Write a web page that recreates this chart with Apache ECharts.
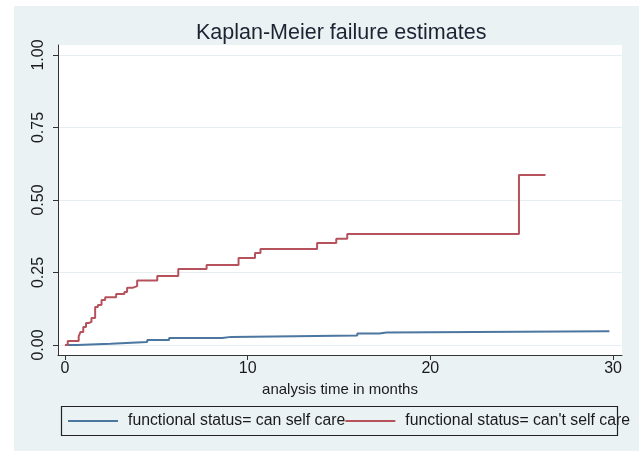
<!DOCTYPE html>
<html>
<head>
<meta charset="utf-8">
<script src="https://cdn.jsdelivr.net/npm/echarts@6/dist/echarts.min.js"></script>
<style>html,body{margin:0;padding:0;background:#fff}#c{width:639px;height:451px}</style>
</head>
<body>
<div id="c"></div>
<script>
// Kaplan-Meier failure estimates (time in months, cumulative failure)
const xTicks = [0, 10, 20, 30];
const yTicks = [0, 0.25, 0.5, 0.75, 1];
const canSelfCare = [
  [0, 0], [0.65, 0.004], [2.5, 0.010], [4.5, 0.017], [5.7, 0.024],
  [8.6, 0.028], [9.1, 0.033], [16.0, 0.040], [17.2, 0.043], [17.6, 0.047],
  [29.8, 0.047]
];
const cantSelfCare = [
  [0, 0], [0.15, 0.014], [0.75, 0.030], [0.85, 0.045], [1.0, 0.062],
  [1.15, 0.076], [1.3, 0.080], [1.45, 0.093], [1.65, 0.131], [1.8, 0.138],
  [2.0, 0.155], [2.2, 0.165], [2.8, 0.176], [3.25, 0.183], [3.4, 0.197],
  [3.7, 0.203], [3.95, 0.222], [5.05, 0.238], [6.2, 0.262], [7.75, 0.276],
  [9.5, 0.300], [10.4, 0.317], [10.7, 0.331], [13.8, 0.352], [14.85, 0.366],
  [15.45, 0.383], [24.85, 0.586], [26.3, 0.586]
];
const seriesNames = ['functional status= can self care', "functional status= can't self care"];

const font = "'Liberation Sans', Arial, sans-serif";
const chart = echarts.init(document.getElementById('c'));
chart.setOption({
  animation: false,
  backgroundColor: '#eaf2f3',
  graphic: [
    { type: 'rect', shape: { x: 0, y: 0, width: 14, height: 451 }, style: { fill: '#ffffff' }, silent: true },
    { type: 'rect', shape: { x: 0, y: 0, width: 639, height: 6 }, style: { fill: '#ffffff' }, silent: true },
    { type: 'rect', shape: { x: 61.5, y: 406.5, width: 556, height: 29 }, style: { fill: 'none', stroke: '#222', lineWidth: 1.2 }, silent: true, z: 10 }
  ],
  title: {
    text: 'Kaplan-Meier failure estimates',
    left: 191, top: 17,
    textStyle: { fontFamily: font, fontSize: 21.5, fontWeight: 'normal', color: '#1c2433' }
  },
  legend: {
    left: 68, top: 413, width: 700, orient: 'horizontal', padding: 0,
    itemWidth: 50, itemHeight: 2, itemGap: 0,
    icon: 'rect',
    textStyle: { fontFamily: font, fontSize: 15.8, color: '#1a1a1a', padding: [0, 0, 0, 5] },
    data: seriesNames
  },
  grid: {
    left: 58, right: 17, top: 45, bottom: 96,
    show: true, backgroundColor: '#ffffff', borderWidth: 0
  },
  xAxis: {
    type: 'value',
    min: -0.383, max: 30.49,
    name: 'analysis time in months',
    nameLocation: 'middle', nameGap: 22,
    nameTextStyle: { fontFamily: font, fontSize: 15, color: '#1a1a1a' },
    axisLine: { show: true, onZero: false, lineStyle: { color: '#333', width: 1 } },
    axisTick: { show: true, length: 5, customValues: xTicks, lineStyle: { color: '#333' } },
    axisLabel: { customValues: xTicks, fontFamily: font, fontSize: 16, color: '#1a1a1a', margin: 6 },
    splitLine: { show: false }
  },
  yAxis: {
    type: 'value',
    min: -0.0345, max: 1.0345,
    axisLine: { show: true, onZero: false, lineStyle: { color: '#333', width: 1 } },
    axisTick: { show: true, length: 5, customValues: yTicks, lineStyle: { color: '#333' } },
    axisLabel: {
      customValues: yTicks, rotate: 90, fontFamily: font, fontSize: 16, color: '#1a1a1a', margin: 11,
      formatter: v => v.toFixed(2)
    },
    splitLine: { show: true, lineStyle: { color: '#e6eef1', width: 1 } }
  },
  series: [
    {
      name: seriesNames[0], type: 'line', step: 'end', data: canSelfCare,
      showSymbol: false, lineStyle: { color: '#4b76a0', width: 2 }, itemStyle: { color: '#4b76a0' }
    },
    {
      name: seriesNames[1], type: 'line', step: 'end', data: cantSelfCare,
      showSymbol: false, lineStyle: { color: '#b6525c', width: 2 }, itemStyle: { color: '#b6525c' }
    }
  ]
});
</script>
</body>
</html>
